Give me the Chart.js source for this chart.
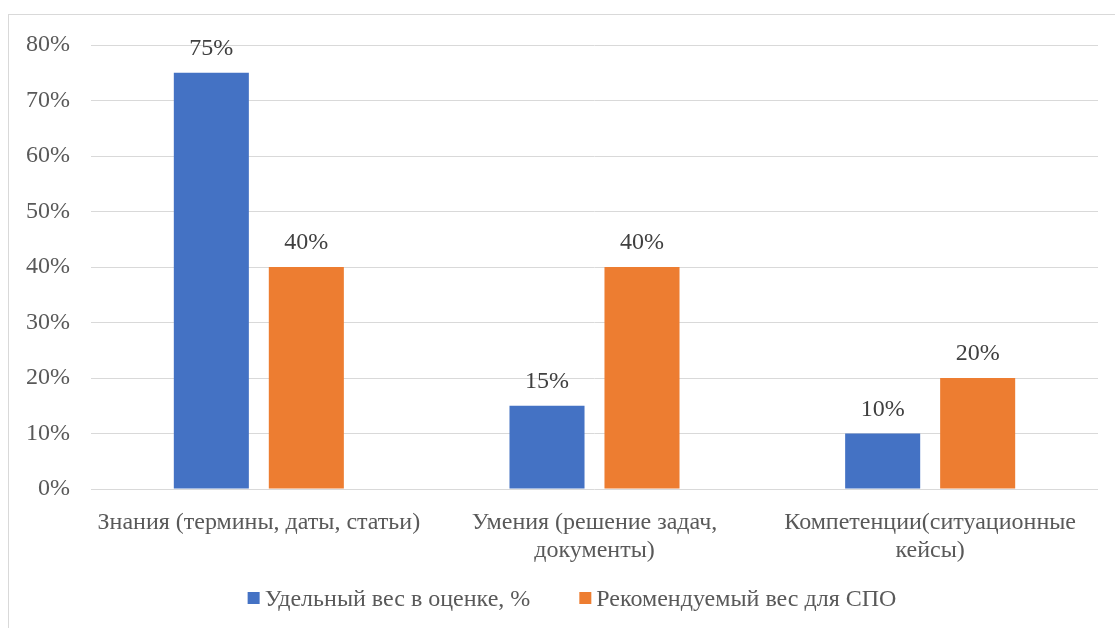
<!DOCTYPE html>
<html>
<head>
<meta charset="utf-8">
<script src="https://cdn.jsdelivr.net/npm/chart.js@4"></script>
<style>
  html, body { margin: 0; padding: 0; background: #fff; }
  #frame { position: absolute; left: 8px; top: 14px; width: 1120px; height: 620px; border: 1px solid #d9d9d9; }
  #wrap { position: absolute; left: 0; top: 0; width: 1115px; height: 628px; }
</style>
</head>
<body>
<div id="frame"></div>
<div id="wrap"><canvas id="chart" width="1115" height="628"></canvas></div>
<script>
const categories = [
    'Знания (термины, даты, статьи)',
    ['Умения (решение задач,', 'документы)'],
    ['Компетенции(ситуационные', 'кейсы)']
];
const seriesNames = ['Удельный вес в оценке, %', 'Рекомендуемый вес для СПО'];
const currentWeights = [75, 15, 10];
const recommendedWeights = [40, 40, 20];
const yTicks = [0, 10, 20, 30, 40, 50, 60, 70, 80];

const FONT = '"Liberation Serif", "Times New Roman", serif';
const FONT_SIZE = 24;

// --- value labels above bars ---
const valueLabels = {
    id: 'valueLabels',
    afterDatasetsDraw(chart) {
        const ctx = chart.ctx;
        ctx.save();
        ctx.font = FONT_SIZE + 'px ' + FONT;
        ctx.fillStyle = '#404040';
        ctx.textAlign = 'center';
        ctx.textBaseline = 'alphabetic';
        chart.data.datasets.forEach((ds, i) => {
            chart.getDatasetMeta(i).data.forEach((bar, j) => {
                ctx.fillText(ds.data[j] + '%', bar.x, bar.y - 18);
            });
        });
        ctx.restore();
    }
};

// --- legend drawn under the axis, centred on the frame ---
const bottomLegend = {
    id: 'bottomLegend',
    afterDraw(chart) {
        const ctx = chart.ctx;
        const boxSize = 12, boxGap = 5, itemGap = 49, centerX = 572, midY = 600;
        ctx.save();
        ctx.font = FONT_SIZE + 'px ' + FONT;
        const widths = chart.data.datasets.map(ds => ctx.measureText(ds.label).width);
        const total = widths.reduce((a, w) => a + boxSize + boxGap + w, 0) + itemGap * (widths.length - 1);
        let x = centerX - total / 2;
        ctx.textBaseline = 'middle';
        ctx.textAlign = 'left';
        chart.data.datasets.forEach((ds, i) => {
            ctx.fillStyle = ds.backgroundColor;
            ctx.fillRect(x, midY - 8, boxSize, boxSize);
            x += boxSize + boxGap;
            ctx.fillStyle = '#595959';
            ctx.fillText(ds.label, x, midY);
            x += widths[i] + itemGap;
        });
        ctx.restore();
    }
};

new Chart(document.getElementById('chart'), {
    type: 'bar',
    data: {
        labels: categories,
        datasets: [
            { label: seriesNames[0], data: currentWeights, backgroundColor: '#4472c4' },
            { label: seriesNames[1], data: recommendedWeights, backgroundColor: '#ed7d31' }
        ]
    },
    options: {
        responsive: false,
        animation: false,
        devicePixelRatio: 1,
        categoryPercentage: 0.566,
        barPercentage: 0.79,
        layout: { padding: { top: 45, right: 17, bottom: 47, left: 0 } },
        scales: {
            x: {
                grid: { display: false },
                border: { display: false },
                ticks: { color: '#595959', font: { family: FONT, size: FONT_SIZE, lineHeight: 1.17 }, padding: 12, maxRotation: 0, autoSkip: false },
                afterFit(scale) { scale.height = 92; }
            },
            y: {
                min: 0,
                max: 80,
                afterBuildTicks(scale) { scale.ticks = yTicks.map(v => ({ value: v })); },
                grid: { color: '#d9d9d9', lineWidth: 1, drawTicks: false },
                border: { display: false },
                ticks: { color: '#595959', font: { family: FONT, size: FONT_SIZE }, padding: 21, callback: v => v + '%' },
                afterFit(scale) { scale.width = 91; }
            }
        },
        plugins: {
            legend: { display: false },
            tooltip: { enabled: false }
        }
    },
    plugins: [valueLabels, bottomLegend]
});
</script>
</body>
</html>
